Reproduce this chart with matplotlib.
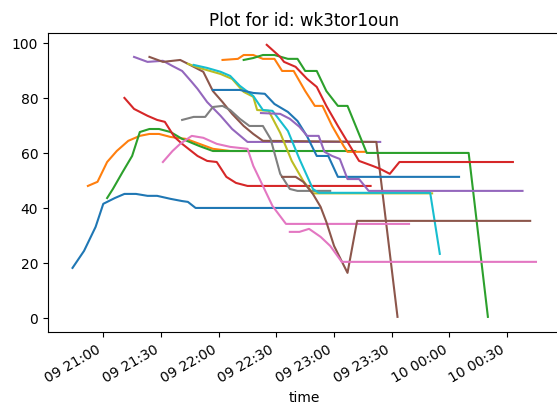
import matplotlib
matplotlib.use("Agg")
import matplotlib.pyplot as plt
import matplotlib.dates as mdates
import pandas as pd

title = "Plot for id: wk3tor1oun"
month = "2021-05-"

# sensor readings per run: timestamps ("DD HH:MM") and values
times_0 = ["09 20:44", "09 20:50", "09 20:56", "09 21:00", "09 21:06", "09 21:11", "09 21:17",
           "09 21:23", "09 21:28", "09 21:35", "09 21:41", "09 21:44", "09 21:48", "09 22:52"]
vals_0 = [18.2, 24.4, 33.1, 41.5, 43.6, 45.1, 45.1, 44.4, 44.4, 43.3, 42.5, 42.2, 40.0, 40.0]

times_1 = ["09 20:52", "09 20:57", "09 21:02", "09 21:07", "09 21:13", "09 21:19", "09 21:24",
           "09 21:29", "09 21:35", "09 21:43", "09 21:50", "09 21:57", "09 22:06", "09 22:21"]
vals_1 = [48.0, 49.5, 56.7, 60.7, 64.4, 66.2, 66.9, 66.9, 65.8, 65.1, 63.3, 61.5, 60.7, 60.7]

times_2 = ["09 21:02", "09 21:05", "09 21:10", "09 21:15", "09 21:19", "09 21:24", "09 21:29",
           "09 21:35", "09 21:41", "09 21:50", "09 21:57", "09 23:11"]
vals_2 = [43.6, 46.9, 53.0, 58.9, 67.6, 68.7, 68.7, 67.6, 65.1, 62.5, 60.7, 60.7]

times_3 = ["09 21:11", "09 21:16", "09 21:23", "09 21:28", "09 21:32", "09 21:37", "09 21:41",
           "09 21:49", "09 21:54", "09 21:59", "09 22:04", "09 22:09", "09 22:15", "09 23:19"]
vals_3 = [80.0, 76.0, 73.5, 72.0, 71.3, 65.8, 63.3, 58.9, 57.1, 56.7, 51.3, 49.1, 48.0, 48.0]

times_4 = ["09 21:16", "09 21:23", "09 21:31", "09 21:36", "09 21:41", "09 21:46", "09 21:49",
           "09 21:54", "09 22:01", "09 22:07", "09 22:15", "09 23:24"]
vals_4 = [94.9, 93.1, 93.5, 91.6, 89.8, 85.8, 83.3, 78.5, 73.5, 68.7, 64.0, 64.0]

times_5 = ["09 21:24", "09 21:31", "09 21:40", "09 21:44", "09 21:52", "09 21:57", "09 22:02",
           "09 22:07", "09 22:13", "09 22:18", "09 22:23", "09 23:22", "09 23:33"]
vals_5 = [94.9, 93.1, 93.8, 92.4, 89.5, 82.5, 78.5, 74.2, 69.8, 66.9, 64.4, 64.0, 0.4]

times_6 = ["09 21:31", "09 21:36", "09 21:40", "09 21:46", "09 21:52", "09 21:59", "09 22:06",
           "09 22:15", "09 22:18", "09 22:23", "09 22:28", "09 22:35", "09 23:39"]
vals_6 = [56.7, 60.7, 63.3, 66.2, 65.5, 63.3, 62.2, 61.5, 55.3, 48.0, 40.7, 34.2, 34.2]

times_7 = ["09 21:41", "09 21:47", "09 21:53", "09 21:57", "09 22:02", "09 22:06", "09 22:11",
           "09 22:16", "09 22:23", "09 22:27", "09 22:32", "09 22:37", "09 22:41", "09 22:58"]
vals_7 = [72.0, 73.1, 73.1, 76.7, 77.1, 75.6, 72.4, 69.8, 69.8, 65.1, 52.4, 46.9, 46.2, 46.2]

times_8 = ["09 21:44", "09 21:50", "09 22:01", "09 22:07", "09 22:13", "09 22:18", "09 22:20",
           "09 22:26", "09 22:32", "09 22:38", "09 22:44", "09 22:49", "09 23:51"]
vals_8 = [92.4, 90.9, 88.7, 86.9, 82.2, 80.4, 75.6, 75.3, 67.3, 57.1, 49.8, 45.3, 45.3]

times_9 = ["09 21:47", "09 21:54", "09 22:01", "09 22:06", "09 22:11", "09 22:18", "09 22:23",
           "09 22:28", "09 22:36", "09 22:42", "09 22:49", "09 22:52", "09 23:50", "09 23:55"]
vals_9 = [92.0, 90.9, 89.5, 88.0, 84.4, 80.7, 75.6, 75.3, 68.0, 57.8, 46.9, 45.5, 45.5, 23.3]

times_10 = ["09 21:57", "09 22:11", "09 22:18", "09 22:24", "09 22:29", "09 22:36", "09 22:41",
            "09 22:46", "09 22:51", "09 22:57", "09 23:02", "10 00:05"]
vals_10 = [82.9, 82.9, 81.8, 81.5, 77.8, 74.9, 71.6, 66.0, 58.9, 58.9, 51.3, 51.3]

times_11 = ["09 22:02", "09 22:10", "09 22:13", "09 22:18", "09 22:23", "09 22:29", "09 22:33",
            "09 22:39", "09 22:45", "09 22:50", "09 22:54", "09 22:59", "09 23:05", "09 23:07",
            "09 23:16"]
vals_11 = [93.8, 94.2, 95.6, 95.6, 94.2, 94.2, 89.8, 89.8, 82.5, 77.1, 77.1, 69.8, 62.5, 60.4,
           60.4]

times_12 = ["09 22:13", "09 22:18", "09 22:23", "09 22:29", "09 22:36", "09 22:41", "09 22:45",
            "09 22:51", "09 22:56", "09 23:02", "09 23:07", "09 23:17", "10 00:10", "10 00:20"]
vals_12 = [93.8, 94.5, 95.6, 95.6, 94.2, 94.2, 89.8, 89.8, 82.5, 77.1, 77.1, 60.0, 60.0, 0.4]

times_13 = ["09 22:25", "09 22:32", "09 22:34", "09 22:40", "09 22:46", "09 22:51", "09 22:56",
            "09 23:02", "09 23:07", "09 23:13", "09 23:20", "09 23:24", "09 23:29", "09 23:34",
            "10 00:33"]
vals_13 = [99.3, 94.9, 93.1, 91.3, 86.9, 84.0, 77.1, 69.8, 64.0, 57.1, 55.3, 54.2, 52.4, 56.7,
           56.7]

times_14 = ["09 22:22", "09 22:32", "09 22:37", "09 22:42", "09 22:46", "09 22:52", "09 22:55",
            "09 22:59", "09 23:03", "09 23:07", "09 23:13", "09 23:18", "10 00:38"]
vals_14 = [74.5, 74.2, 72.4, 69.5, 66.2, 66.2, 60.4, 58.9, 57.8, 50.5, 50.5, 46.2, 46.2]

times_15 = ["09 22:33", "09 22:40", "09 22:44", "09 22:49", "09 22:53", "09 22:56", "09 23:00",
            "09 23:07", "09 23:12", "10 00:42"]
vals_15 = [51.3, 51.3, 49.5, 45.1, 40.4, 34.9, 26.2, 16.4, 35.3, 35.3]

times_16 = ["09 22:37", "09 22:42", "09 22:47", "09 22:53", "09 22:58", "09 23:04", "10 00:45"]
vals_16 = [31.3, 31.3, 32.4, 29.5, 26.2, 20.4, 20.4]

runs = [
    (times_0, vals_0), (times_1, vals_1), (times_2, vals_2), (times_3, vals_3),
    (times_4, vals_4), (times_5, vals_5), (times_6, vals_6), (times_7, vals_7),
    (times_8, vals_8), (times_9, vals_9), (times_10, vals_10), (times_11, vals_11),
    (times_12, vals_12), (times_13, vals_13), (times_14, vals_14), (times_15, vals_15),
    (times_16, vals_16),
]


def to_dt(labels):
    return pd.to_datetime([month + s for s in labels], format="%Y-%m-%d %H:%M")


fig = plt.figure(figsize=(5.57, 4.10), dpi=100)
ax = fig.add_axes([48 / 557, 77 / 410, 512 / 557, 299 / 410])

for t, v in runs:
    ax.plot(to_dt(t), v, linewidth=1.5)

ax.set_xlim(pd.Timestamp(month + "09 20:31:15"), pd.Timestamp(month + "10 00:57:30"))
ax.set_ylim(-5.1, 103.6)
ax.set_yticks([0, 20, 40, 60, 80, 100])

ax.xaxis.set_major_locator(mdates.MinuteLocator(byminute=[0, 30]))
ax.xaxis.set_major_formatter(mdates.DateFormatter("%d %H:%M"))
for lbl in ax.get_xticklabels():
    lbl.set_rotation(30)
    lbl.set_horizontalalignment("right")

ax.set_xlabel("time")
ax.set_title(title)

fig.savefig("out.png", dpi=100)
